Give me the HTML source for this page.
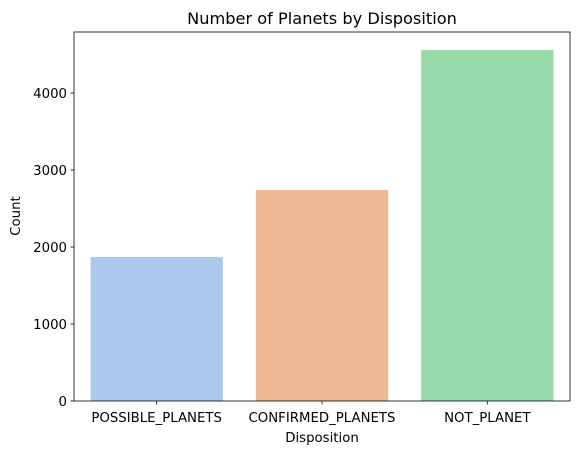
<!DOCTYPE html>
<html><head><meta charset="utf-8"><style>
body{margin:0;background:#fff;font-family:"DejaVu Sans","Liberation Sans",sans-serif}
</style></head><body>
<svg id="chart" width="580" height="455" xmlns="http://www.w3.org/2000/svg">
<text x="322" y="24" font-size="16.2" text-anchor="middle" fill="#000">Number of Planets by Disposition</text>
<text x="322" y="442" font-size="13.3" text-anchor="middle">Disposition</text>
<text x="20" y="216" font-size="13.3" text-anchor="middle" transform="rotate(-90 20 216)">Count</text>
<g id="bars"></g><g id="axes"></g>
</svg>
<script>
const categories=["POSSIBLE_PLANETS","CONFIRMED_PLANETS","NOT_PLANET"];
const counts=[1870,2740,4558];
const colors=["#abc9ee","#f1b894","#98d9a9"];
const yTicks=[0,1000,2000,3000,4000];
const L=74,R=570,T=32,B=401;
const y=v=>B-v*0.077;
const band=(R-L)/categories.length;
const x=i=>L+band*i;
const ns="http://www.w3.org/2000/svg";
const bars=document.getElementById('bars'),axes=document.getElementById('axes');
function mk(t,a,p){const e=document.createElementNS(ns,t);for(const k in a)e.setAttribute(k,a[k]);p.appendChild(e);return e;}
categories.forEach((c,i)=>{
 const r=mk('rect',{x:x(i)+band*0.1,y:y(counts[i]),width:band*0.8,height:B-y(counts[i]),fill:colors[i]},bars);
 
 
 mk('line',{x1:x(i)+band/2,x2:x(i)+band/2,y1:B,y2:B+3.5,stroke:'#000','stroke-width':0.8},axes);
 const t=mk('text',{x:x(i)+band/2,y:B+21,'font-size':13.3,'text-anchor':'middle'},axes);
 t.textContent=c;
 
 
});
yTicks.forEach(v=>{
 mk('line',{x1:L-3.5,x2:L,y1:y(v),y2:y(v),stroke:'#000','stroke-width':0.8},axes);
 const t=mk('text',{x:L-7,y:y(v)+5,'font-size':13.3,'text-anchor':'end'},axes);
 t.textContent=v;
 
 
});
const f=mk('rect',{x:L,y:T,width:R-L,height:B-T,fill:'none',stroke:'#000','stroke-width':0.8},axes);


</script>
</body></html>
